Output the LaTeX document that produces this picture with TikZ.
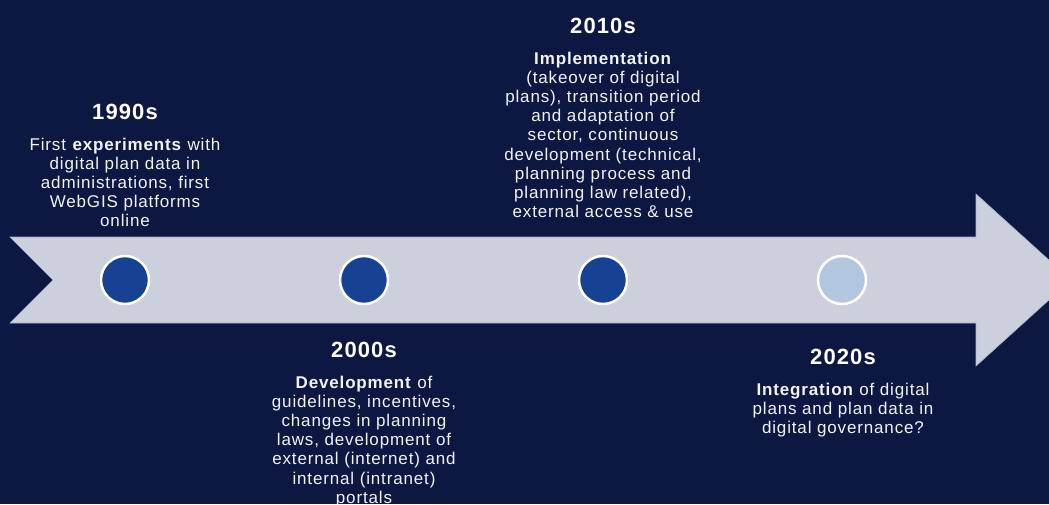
\documentclass[tikz,border=0pt]{standalone}
\usepackage{fontspec}
\setmainfont{Liberation Sans}[LetterSpace=5]
\begin{document}
\definecolor{navy}{HTML}{0C1842}
\definecolor{band}{HTML}{CBD0DC}
\definecolor{bandedge}{HTML}{A9B1C4}
\definecolor{dotblue}{HTML}{174192}
\definecolor{dotlight}{HTML}{B2C6DF}
\definecolor{txt}{HTML}{F2F3F6}
\begin{tikzpicture}[x=1pt,y=-1pt,
  decade/.style={text=white,font=\fontsize{22}{26}\selectfont\bfseries,anchor=base,inner sep=0pt},
  story/.style={text=txt,font=\fontsize{17}{19.2}\selectfont,align=center,anchor=north,inner sep=0pt},
  milestone/.style={circle,draw=white,line width=2.5pt,minimum size=48pt,inner sep=0pt}]
\useasboundingbox (0,0) rectangle (1049,504);
\fill[navy] (0,0) rectangle (1049,504);
% timeline arrow
\begin{scope}
\clip (0,0) rectangle (1049,504);
\filldraw[fill=band,draw=bandedge,line width=0.6pt]
  (10,237) -- (976,237) -- (976,194) -- (1071,280) -- (976,366) -- (976,323)
  -- (10,323) -- (53,280) -- cycle;
\end{scope}
% milestones
\node[milestone,fill=dotblue] (m1) at (125,280) {};
\node[milestone,fill=dotblue] (m2) at (364,280) {};
\node[milestone,fill=dotblue] (m3) at (603,280) {};
\node[milestone,fill=dotlight] (m4) at (842,280) {};
% 1990s
\node[decade] (d1) at (125,119) {1990s};
\node[story] (t1) at (125,137.6) {First \textbf{experiments} with\\digital plan data in\\administrations, first\\WebGIS platforms\\online};
% 2000s
\node[decade] (d2) at (364,357) {2000s};
\node[story] (t2) at (364,375.6) {\textbf{Development} of\\guidelines, incentives,\\changes in planning\\laws, development of\\external (internet) and\\internal (intranet)\\portals};
% 2010s
\node[decade] (d3) at (603,33) {2010s};
\node[story] (t3) at (603,51.6) {\textbf{Implementation}\\(takeover of digital\\plans), transition period\\and adaptation of\\sector, continuous\\development (technical,\\planning process and\\planning law related),\\external access \& use};
% 2020s
\node[decade] (d4) at (843,364) {2020s};
\node[story] (t4) at (843,382.6) {\textbf{Integration} of digital\\plans and plan data in\\digital governance?};
\end{tikzpicture}
\end{document}
